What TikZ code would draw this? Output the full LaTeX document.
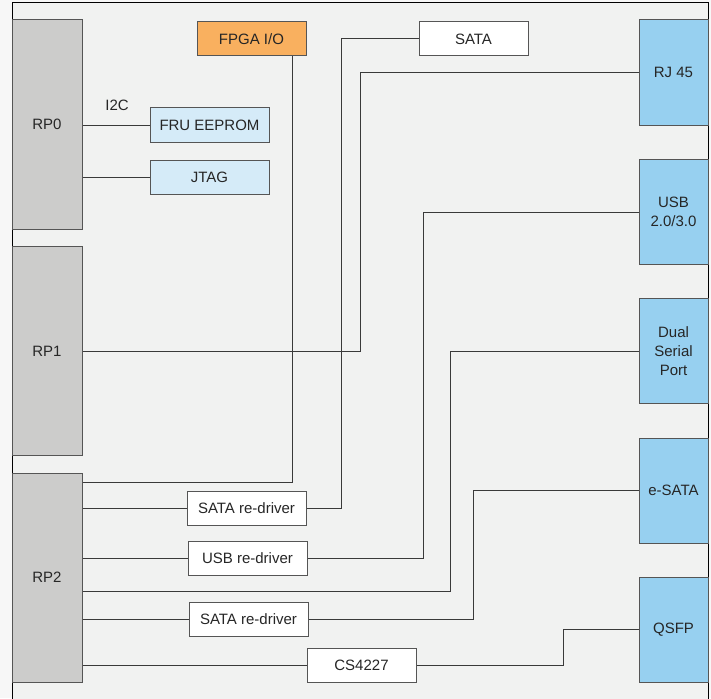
\documentclass[tikz,border=0pt]{standalone}
\usepackage{fontspec}
\setmainfont{Liberation Sans}
\usetikzlibrary{positioning}
\definecolor{bgcol}{HTML}{F1F2F1}
\definecolor{rpgray}{HTML}{CCCCCB}
\definecolor{fpgaorange}{HTML}{F9B05F}
\definecolor{lightblue}{HTML}{D5EBF8}
\definecolor{portblue}{HTML}{97D0F0}
\definecolor{edgecol}{HTML}{555555}
\definecolor{wirecol}{HTML}{3A3A3A}
\begin{document}
\begin{tikzpicture}[x=1pt,y=-1pt,
	box/.style={rectangle, draw=edgecol, line width=1pt, inner sep=0pt, align=center, text=black!85, font=\fontsize{15}{19}\selectfont},
	rp/.style={box, fill=rpgray, minimum width=70pt, minimum height=209pt},
	port/.style={box, fill=portblue, minimum width=69pt, minimum height=105pt},
	chip/.style={box, fill=white, minimum width=119pt, minimum height=34pt},
	wire/.style={draw=wirecol, line width=1pt}]

	%Frame
	\useasboundingbox (0,0) rectangle (711,698);
	\fill[white!97!black] (0,0) rectangle (711,698);
	\draw[black, line width=1pt, fill=bgcol] (12,3) rectangle (708,720);

	%Nodes
	\node[rp]	(rp0)	at (47,124.5) {RP0};
	\node[rp]	(rp1)	at (47,351) {RP1};
	\node[rp]	(rp2)	at (47,577.5) {RP2};
	\node[box, fill=fpgaorange, minimum width=109pt, minimum height=34pt]	(fpga)	at (251.5,39) {FPGA I/O};
	\node[chip, fill=lightblue]	(fru)	at (209.5,125) {FRU EEPROM};
	\node[chip, fill=lightblue]	(jtag)	at (209.5,177) {JTAG};
	\node[font=\fontsize{15}{19}\selectfont, text=black!85]	(i2c)	at (117,105) {I2C};
	\node[chip, minimum width=109pt]	(sata)	at (473.5,39) {SATA};
	\node[chip]	(sd1)	at (246.5,508) {SATA re-driver};
	\node[chip]	(ud)	at (247.5,558) {USB re-driver};
	\node[chip]	(sd2)	at (248.5,619.5) {SATA re-driver};
	\node[chip, minimum width=109pt]	(cs)	at (361.5,665) {CS4227};
	\node[port]	(rj)	at (673.5,72.5) {RJ 45};
	\node[port]	(usb)	at (673.5,212) {USB\\2.0/3.0};
	\node[port]	(dsp)	at (673.5,351) {Dual\\Serial\\Port};
	\node[port]	(esata)	at (673.5,490.5) {e-SATA};
	\node[port]	(qsfp)	at (673.5,629.5) {QSFP};

	%Lines
	\draw[wire] (fru.west) -- (fru.west -| rp0.east);
	\draw[wire] (jtag.west) -- (jtag.west -| rp0.east);
	\draw[wire] ([xshift=-14pt]fpga.south east) |- ([yshift=-10pt]rp2.north east);
	\draw[wire] (sata.west) -| ([xshift=35pt]sd1.east) -- (sd1.east);
	\draw[wire] (sd1.west) -- (sd1.west -| rp2.east);
	\draw[wire] (rj.west) -| ([xshift=278pt]rp1.east) -- (rp1.east);
	\draw[wire] (usb.west) -| ([xshift=116pt]ud.east) -- (ud.east);
	\draw[wire] (ud.west) -- (ud.west -| rp2.east);
	\draw[wire] (dsp.west) -| ([xshift=368pt, yshift=-13.5pt]rp2.east) -- ([yshift=-13.5pt]rp2.east);
	\draw[wire] (esata.west) -| ([xshift=165pt]sd2.east) -- (sd2.east);
	\draw[wire] (sd2.west) -- (sd2.west -| rp2.east);
	\draw[wire] (qsfp.west) -| ([xshift=147pt]cs.east) -- (cs.east);
	\draw[wire] (cs.west) -- (cs.west -| rp2.east);
\end{tikzpicture}
\end{document}
